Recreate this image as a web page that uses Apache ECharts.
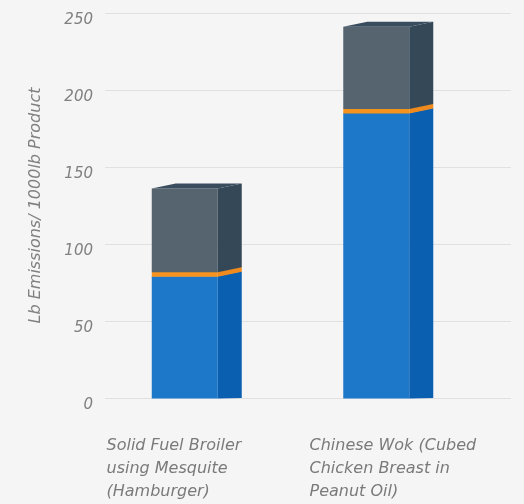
<!DOCTYPE html>
<html><head><meta charset="utf-8">
<script src="https://cdn.jsdelivr.net/npm/echarts@6/dist/echarts.min.js"></script>
<style>html,body{margin:0;padding:0;background:#f5f5f5}#c{width:524px;height:504px}</style>
</head><body><div id="c"></div>
<script>
const categories = ['Solid Fuel Broiler\nusing Mesquite\n(Hamburger)', 'Chinese Wok (Cubed\nChicken Breast in\nPeanut Oil)'];
const blueValues = [79, 185];
const orangeValues = [3, 3];
const grayValues = [54, 53];
const yTicks = [0, 50, 100, 150, 200, 250];
const yTitle = 'Lb Emissions/ 1000lb Product';

const FRONT = ['#1d78c9', '#f6921e', '#566470'];
const SIDE = ['#0b5fb1', '#f08a1c', '#354858'];
const TOP = '#3a4d5e';
const FONT = 'DejaVu Sans';

const chart = echarts.init(document.getElementById('c'));

function renderItem(params, api) {
  const idx = api.value(0);
  const vals = [api.value(1), api.value(2), api.value(3)];
  const base = api.coord([idx, 0]);
  const cx = base[0];
  const xl = cx - 45, xr = cx + 21, d = 24, dy = 5;
  const children = [];
  let acc = 0;
  let prevY = base[1];
  for (let k = 0; k < 3; k++) {
    acc += vals[k];
    const yTop = api.coord([idx, acc])[1];
    children.push({type: 'rect', shape: {x: xl, y: yTop, width: xr - xl, height: prevY - yTop + 0.5}, style: {fill: FRONT[k]}});
    children.push({type: 'polygon', shape: {points: [[xr, yTop], [xr + d, yTop - dy], [xr + d, k === 0 ? prevY : prevY - dy + 0.5], [xr, prevY + 0.5]]}, style: {fill: SIDE[k]}});
    prevY = yTop;
  }
  children.push({type: 'polygon', shape: {points: [[xl, prevY], [xl + d, prevY - dy], [xr + d, prevY - dy], [xr, prevY]]}, style: {fill: TOP}});
  return {type: 'group', children: children};
}

const labelLines = s => s.split('\n').map(l => '{a|' + l + '}').join('\n');

chart.setOption({
  backgroundColor: '#f5f5f5',
  animation: false,
  grid: [
    {left: 105, right: 13, top: 13, bottom: 106},
    {left: 101, right: 40, top: 13, bottom: 106}
  ],
  xAxis: [
    {
      type: 'category', gridIndex: 0, data: categories,
      axisLine: {show: false}, axisTick: {show: false},
      axisLabel: {
        margin: 36, align: 'center', interval: 0,
        formatter: labelLines,
        rich: {a: {width: 200, align: 'left', fontFamily: FONT, fontStyle: 'italic', fontSize: 16, lineHeight: 23, color: '#7a7a7a'}}
      }
    },
    {type: 'category', gridIndex: 1, data: categories, show: false}
  ],
  yAxis: [
    {
      type: 'value', gridIndex: 0, min: yTicks[0], max: yTicks[yTicks.length - 1], interval: yTicks[1] - yTicks[0],
      name: yTitle, nameLocation: 'middle', nameGap: 61, nameRotate: 90,
      nameTextStyle: {fontFamily: FONT, fontStyle: 'italic', fontSize: 16, color: '#808080'},
      axisLine: {show: false}, axisTick: {show: false},
      axisLabel: {margin: 12, verticalAlign: 'top', fontFamily: FONT, fontStyle: 'italic', fontSize: 15, color: '#808080'},
      splitLine: {lineStyle: {color: '#e0e0e0', width: 1}}
    },
    {type: 'value', gridIndex: 1, min: yTicks[0], max: yTicks[yTicks.length - 1], show: false}
  ],
  series: [{
    type: 'custom',
    xAxisIndex: 1, yAxisIndex: 1,
    renderItem: renderItem,
    encode: {x: 0, y: [1, 2, 3]},
    data: categories.map((c, i) => [i, blueValues[i], orangeValues[i], grayValues[i]])
  }]
});
</script>
</body></html>
